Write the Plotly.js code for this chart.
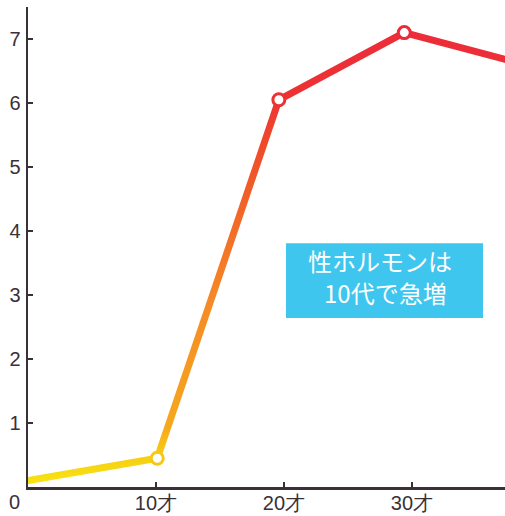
<!DOCTYPE html>
<html>
<head>
<meta charset="utf-8">
<script src="https://cdn.plot.ly/plotly-3.0.1.min.js"></script>
<style>
  html, body { margin: 0; padding: 0; background: #fff; }
  #chart { width: 505px; height: 516px; }
</style>
</head>
<body>
<div id="chart"></div>
<script>
// Data
const ages = [0, 10.1, 19.6, 29.4, 37.3];
const hormoneLevel = [0.1, 0.45, 6.05, 7.1, 6.68];

const markerAges = [10.1, 19.6, 29.4];
const markerLevel = [0.45, 6.05, 7.1];
const markerColors = ['#f6c814', '#ec3232', '#ec2a38'];

const xTickVals = [10, 20, 30];
const xTickText = ['10才', '20才', '30才'];
const yTickVals = [1, 2, 3, 4, 5, 6, 7];
const yTickText = ['1', '2', '3', '4', '5', '6', '7'];

const noteLine1 = '性ホルモンは';
const noteLine2 = '10代で急増';

const axisColor = '#3a3038';
const labelFont = { family: 'Liberation Sans, Arial, sans-serif', size: 20, color: '#3a3038' };
const noteFont = { family: 'Noto Sans CJK JP, sans-serif', size: 24, color: '#ffffff' };

const traces = [
  {
    x: ages, y: hormoneLevel, type: 'scatter', mode: 'lines',
    line: { color: '#f58a25', width: 7 },
    hoverinfo: 'skip', showlegend: false
  },
  {
    x: markerAges, y: markerLevel, type: 'scatter', mode: 'markers',
    marker: { size: 12, color: '#ffffff', line: { color: markerColors, width: 3 } },
    hoverinfo: 'skip', showlegend: false, cliponaxis: false
  }
];

const layout = {
  width: 505, height: 516,
  margin: { l: 28, r: 0, t: 7, b: 29, pad: 0 },
  paper_bgcolor: '#ffffff', plot_bgcolor: '#ffffff',
  showlegend: false,
  xaxis: {
    range: [0, 37.27], showgrid: false, zeroline: false,
    showline: true, linecolor: axisColor, linewidth: 2.5,
    ticks: 'inside', ticklen: 5, tickwidth: 2, tickcolor: axisColor,
    tickvals: xTickVals, ticktext: xTickText, tickfont: labelFont,
    ticklabelstandoff: -4,
    fixedrange: true
  },
  yaxis: {
    range: [0, 7.5], showgrid: false, zeroline: false,
    showline: true, linecolor: axisColor, linewidth: 2.5,
    ticks: 'inside', ticklen: 5, tickwidth: 1.5, tickcolor: axisColor,
    tickvals: yTickVals, ticktext: yTickText, tickfont: labelFont,
    ticklabelstandoff: 1,
    fixedrange: true
  },
  shapes: [
    {
      type: 'rect', xref: 'x', yref: 'y', layer: 'below',
      x0: 20.16, x1: 35.55, y0: 2.64, y1: 3.81,
      fillcolor: '#3ec6ee', line: { width: 0 }
    }
  ],
  annotations: [
    {
      xref: 'paper', yref: 'paper', x: -0.028, y: -0.032,
      xanchor: 'center', yanchor: 'middle',
      text: '0', showarrow: false, font: labelFont
    },
    {
      xref: 'x', yref: 'y', x: 27.5, y: 3.54,
      xanchor: 'center', yanchor: 'middle',
      text: noteLine1, showarrow: false, font: noteFont
    },
    {
      xref: 'x', yref: 'y', x: 27.9, y: 3.04,
      xanchor: 'center', yanchor: 'middle',
      text: noteLine2, showarrow: false, font: noteFont
    }
  ]
};

Plotly.newPlot('chart', traces, layout, { displayModeBar: false, staticPlot: true }).then(function (gd) {
  // Bottom-to-top yellow→orange→red gradient on the line stroke
  const svg = gd.querySelector('svg.main-svg');
  const ns = 'http://www.w3.org/2000/svg';
  let defs = svg.querySelector('defs');
  if (!defs) { defs = document.createElementNS(ns, 'defs'); svg.insertBefore(defs, svg.firstChild); }
  const grad = document.createElementNS(ns, 'linearGradient');
  grad.setAttribute('id', 'lineGrad');
  grad.setAttribute('x1', '0'); grad.setAttribute('y1', '1');
  grad.setAttribute('x2', '0'); grad.setAttribute('y2', '0');
  const stops = [
    [0.00, '#f7e212'], [0.06, '#f6cc12'], [0.12, '#f6a81c'], [0.40, '#f58a25'],
    [0.58, '#f26a28'], [0.75, '#ef4a2a'], [0.86, '#ed3232'], [1.00, '#ec2c3a']
  ];
  stops.forEach(function (s) {
    const st = document.createElementNS(ns, 'stop');
    st.setAttribute('offset', s[0]);
    st.setAttribute('stop-color', s[1]);
    grad.appendChild(st);
  });
  defs.appendChild(grad);
  const path = gd.querySelector('.scatterlayer .trace:first-child path.js-line');
  if (path) {
    path.style.stroke = 'url(#lineGrad)';
    path.style.strokeLinejoin = 'round';
    path.style.strokeLinecap = 'round';
  }
});
</script>
</body>
</html>
